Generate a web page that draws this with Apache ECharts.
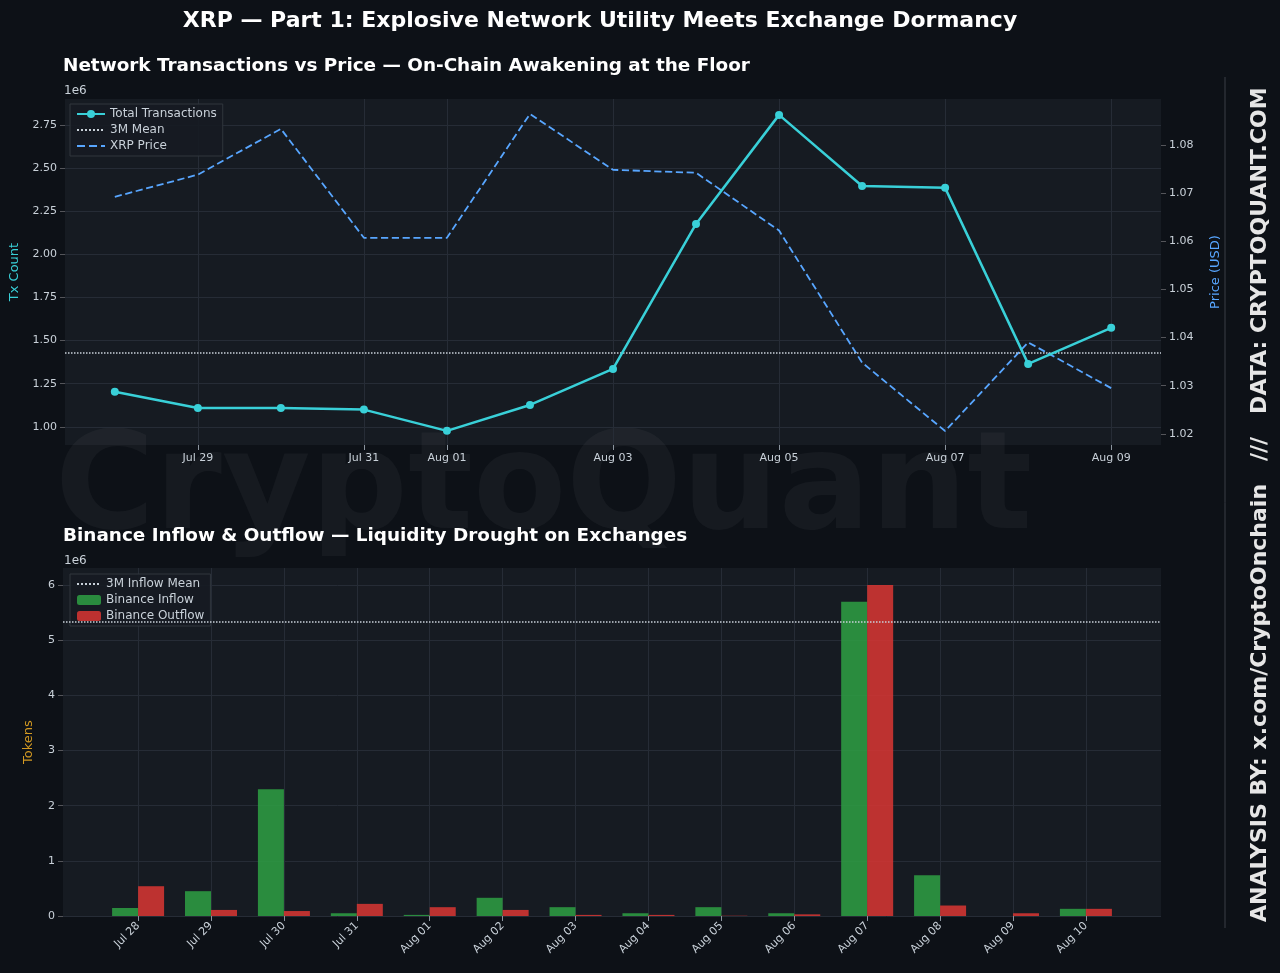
<!DOCTYPE html>
<html><head><meta charset="utf-8">
<script src="https://cdn.jsdelivr.net/npm/echarts@6/dist/echarts.min.js"></script>
<style>html,body{margin:0;background:#0d1117;}#c{width:1280px;height:973px;}</style>
</head><body><div id="c"></div>
<script>
const txDates=['Jul 28','Jul 29','Jul 30','Jul 31','Aug 01','Aug 02','Aug 03','Aug 04','Aug 05','Aug 06','Aug 07','Aug 08','Aug 09'];
const txShown=[1,3,4,6,8,10,12];
const txCount=[1.203,1.11,1.11,1.10,0.977,1.127,1.336,2.176,2.808,2.396,2.385,1.365,1.574];
const txMean=1.429;
const price=[1.0692,1.0738,1.0833,1.0607,1.0607,1.0864,1.0748,1.0742,1.0622,1.0348,1.0206,1.039,1.0295];
const flowDates=['Jul 28','Jul 29','Jul 30','Jul 31','Aug 01','Aug 02','Aug 03','Aug 04','Aug 05','Aug 06','Aug 07','Aug 08','Aug 09','Aug 10'];
const inflow=[0.145,0.45,2.3,0.05,0.02,0.33,0.16,0.05,0.16,0.05,5.7,0.74,0,0.13];
const outflow=[0.54,0.11,0.09,0.22,0.16,0.11,0.02,0.02,0.005,0.03,6.0,0.19,0.05,0.13];
const inflowMean=5.33;

const F='DejaVu Sans';
const grid1={left:63,right:119,top:99,height:346,backgroundColor:'#161b22',show:true,borderWidth:0};
const grid2={left:63,right:119,top:568,height:348,backgroundColor:'#161b22',show:true,borderWidth:0};
const sl={show:true,lineStyle:{color:'#262c36',type:'solid',width:1}};
const noLine={show:false,onZero:false};
const lab={color:'#c9d1d9',fontFamily:F,fontSize:11};
const flowIdx=flowDates.map((d,i)=>i);
const txTicks=[1,1.25,1.5,1.75,2,2.25,2.5,2.75];
const chart=echarts.init(document.getElementById('c'));
chart.setOption({
 backgroundColor:'#0d1117',
 textStyle:{fontFamily:F},
 title:[
  {text:'XRP — Part 1: Explosive Network Utility Meets Exchange Dormancy',left:595,top:5,textAlign:'center',textStyle:{color:'#fff',fontSize:22,fontWeight:'bold',fontFamily:F}},
  {text:'Network Transactions vs Price — On-Chain Awakening at the Floor',left:58,top:52,textStyle:{color:'#fff',fontSize:18.4,fontWeight:'bold',fontFamily:F}},
  {text:'Binance Inflow & Outflow — Liquidity Drought on Exchanges',left:58,top:522,textStyle:{color:'#fff',fontSize:18.4,fontWeight:'bold',fontFamily:F}}
 ],
 graphic:[
  {type:'text',left:55,top:425,z:0,style:{text:'CryptoQuant',fill:'rgba(255,255,255,0.04)',font:'bold 136px DejaVu Sans'}},
  {type:'text',x:64,y:85,style:{text:'1e6',fill:'#c9d1d9',font:'12px DejaVu Sans'}},
  {type:'text',x:64,y:555,style:{text:'1e6',fill:'#c9d1d9',font:'12px DejaVu Sans'}},
  {type:'line',shape:{x1:1225,y1:77,x2:1225,y2:928},style:{stroke:'#3a3f47',lineWidth:1}},
  {type:'text',x:1260,y:922,rotation:Math.PI/2,style:{text:'ANALYSIS BY: x.com/CryptoOnchain   ///   DATA: CRYPTOQUANT.COM',fill:'#e6e6e6',font:'bold 22px DejaVu Sans',verticalAlign:'middle'}}
 ],
 legend:[
  {top:104,left:70,orient:'vertical',itemGap:4,backgroundColor:'rgba(22,27,34,0.9)',borderColor:'#30363d',borderWidth:1,padding:[4,6],
   textStyle:{color:'#c9d1d9',fontSize:12,fontFamily:F},itemWidth:28,itemHeight:10,
   data:['Total Transactions',{name:'3M Mean',itemStyle:{opacity:0}},{name:'XRP Price',itemStyle:{opacity:0}}]},
  {top:574,left:70,orient:'vertical',itemGap:4,backgroundColor:'rgba(22,27,34,0.9)',borderColor:'#30363d',borderWidth:1,padding:[4,6],
   textStyle:{color:'#c9d1d9',fontSize:12,fontFamily:F},itemWidth:24,itemHeight:10,
   data:[{name:'3M Inflow Mean',itemStyle:{opacity:0}},'Binance Inflow','Binance Outflow']}
 ],
 grid:[grid1,grid2],
 xAxis:[
  {type:'value',gridIndex:0,min:-0.6,max:12.6,axisLine:noLine,
   axisTick:{customValues:txShown,lineStyle:{color:'#8b949e'}},
   axisLabel:Object.assign({customValues:txShown,formatter:v=>txDates[Math.round(v)]},lab),
   splitLine:sl},
  {type:'value',gridIndex:1,min:-1.03,max:14.03,axisLine:noLine,
   axisTick:{customValues:flowIdx,lineStyle:{color:'#8b949e'}},
   axisLabel:Object.assign({customValues:flowIdx,rotate:45,formatter:v=>flowDates[Math.round(v)]},lab),splitLine:sl}
 ],
 yAxis:[
  {type:'value',gridIndex:0,min:0.895,max:2.90,axisLine:noLine,axisLabel:Object.assign({formatter:v=>v.toFixed(2),customValues:txTicks},lab),
   axisTick:{show:true,customValues:txTicks},splitLine:sl,
   name:'Tx Count',nameLocation:'middle',nameGap:44,nameTextStyle:{color:'#39d0d8',fontSize:13,fontFamily:F}},
  {type:'value',gridIndex:0,min:1.0177,max:1.0895,position:'right',axisLine:noLine,axisTick:{show:true,customValues:[1.02,1.03,1.04,1.05,1.06,1.07,1.08]},
   axisLabel:Object.assign({customValues:[1.02,1.03,1.04,1.05,1.06,1.07,1.08],formatter:v=>v.toFixed(2)},lab),splitLine:{show:false},
   name:'Price (USD)',nameLocation:'middle',nameGap:48,nameTextStyle:{color:'#58a6ff',fontSize:13,fontFamily:F}},
  {type:'value',gridIndex:1,min:0,max:6.31,axisLine:noLine,axisTick:{show:true,customValues:[0,1,2,3,4,5,6]},
   axisLabel:Object.assign({customValues:[0,1,2,3,4,5,6]},lab),splitLine:sl,
   name:'Tokens',nameLocation:'middle',nameGap:28,nameTextStyle:{color:'#d29922',fontSize:13,fontFamily:F}}
 ],
 series:[
  {name:'Total Transactions',type:'line',xAxisIndex:0,yAxisIndex:0,data:txCount.map((v,i)=>[i,v]),
   color:'#39d0d8',lineStyle:{width:2.5},symbol:'circle',symbolSize:8,z:5},
  {name:'3M Mean',type:'line',xAxisIndex:0,yAxisIndex:0,data:[],color:'#c9d1d9',lineStyle:{type:'dotted',width:1.5},symbol:'none',
   markLine:{silent:true,symbol:'none',label:{show:false},lineStyle:{color:'#c9d1d9',type:'dotted',width:1.5},data:[{yAxis:txMean}]}},
  {name:'XRP Price',type:'line',xAxisIndex:0,yAxisIndex:1,data:price.map((v,i)=>[i,v]),color:'#58a6ff',
   lineStyle:{type:'dashed',width:1.8},symbol:'none',z:4},
  {name:'3M Inflow Mean',type:'line',xAxisIndex:1,yAxisIndex:2,data:[],color:'#c9d1d9',lineStyle:{type:'dotted',width:1.5},symbol:'none',z:5,
   markLine:{silent:true,symbol:'none',label:{show:false},lineStyle:{color:'#c9d1d9',type:'dotted',width:1.5},data:[{yAxis:inflowMean}]}},
  {name:'Binance Inflow',type:'bar',xAxisIndex:1,yAxisIndex:2,data:inflow.map((v,i)=>[i,v]),color:'#2ea043',itemStyle:{opacity:0.85},barWidth:26,barGap:'0%',z:2},
  {name:'Binance Outflow',type:'bar',xAxisIndex:1,yAxisIndex:2,data:outflow.map((v,i)=>[i,v]),color:'#da3633',itemStyle:{opacity:0.85},barWidth:26,barGap:'0%',z:2}
 ]
});
</script></body></html>
